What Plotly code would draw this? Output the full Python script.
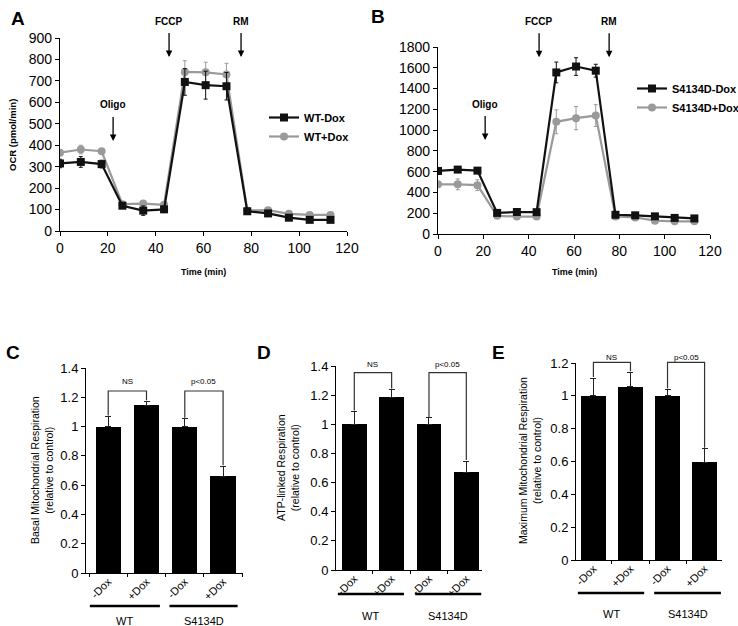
"""Mitochondrial respiration figure: OCR time courses (A, B) and summary bars (C-E)."""

import plotly.graph_objects as go

W, H = 738, 626

# ---- data: OCR time courses ----
time_min = [0, 8.7, 17.4, 26.1, 34.8, 43.5, 52.2, 60.9, 69.6, 78.3, 87.0, 95.7, 104.4, 113.1]

wt_minus = [315, 322, 312, 118, 95, 101, 695, 680, 675, 92, 82, 62, 52, 52]
wt_minus_err = [20, 25, 18, 10, 22, 15, 62, 65, 64, 8, 8, 10, 10, 8]
wt_plus = [365, 380, 372, 125, 128, 122, 742, 740, 730, 96, 97, 80, 75, 75]
wt_plus_err = [12, 20, 8, 8, 8, 8, 52, 47, 52, 6, 6, 6, 6, 6]

s_minus = [607, 620, 610, 203, 212, 210, 1555, 1612, 1572, 185, 180, 170, 155, 150]
s_minus_err = [30, 20, 20, 15, 15, 15, 100, 85, 62, 15, 15, 12, 12, 12]
s_plus = [478, 478, 470, 175, 168, 168, 1080, 1115, 1140, 168, 160, 128, 122, 122]
s_plus_err = [25, 52, 52, 15, 15, 15, 115, 112, 105, 15, 15, 12, 12, 12]

# ---- data: relative respiration bars ----
bar_labels = ["-Dox", "+Dox", "-Dox", "+Dox"]
groups = ["WT", "S4134D"]
basal = [1.0, 1.145, 1.0, 0.66]
basal_err = [0.07, 0.027, 0.054, 0.068]
atp = [1.0, 1.185, 1.0, 0.67]
atp_err = [0.09, 0.053, 0.046, 0.077]
maximal = [1.0, 1.055, 1.0, 0.595]
maximal_err = [0.108, 0.088, 0.041, 0.082]

BLACK = "#111111"
GRAY = "#9a9a9a"
FONT = "Liberation Sans"


def px(x):
    return x / W


def py(y):
    return 1 - y / H


# bar panel geometry: x pixel span, x range, y pixel span (bottom, top), y range
BAR_PANELS = {
    "3": dict(xpx=(86, 243), xr=(-0.58, 3.52), ypx=(573, 368), yr=(0, 1.4)),
    "4": dict(xpx=(336, 482), xr=(-0.49, 3.42), ypx=(570, 366), yr=(0, 1.4)),
    "5": dict(xpx=(576, 722), xr=(-0.47, 3.47), ypx=(560, 363), yr=(0, 1.2)),
}


def data_to_paper(panel, x, y=None):
    g = BAR_PANELS[panel]
    (a, b), (r0, r1) = g["xpx"], g["xr"]
    xp = px(a + (x - r0) / (r1 - r0) * (b - a))
    if y is None:
        return xp
    (c, d), (s0, s1) = g["ypx"], g["yr"]
    return xp, py(c + (y - s0) / (s1 - s0) * (d - c))


fig = go.Figure()


def add_line(x, y, err, name, color, symbol, xa, ya, legend):
    fig.add_trace(go.Scatter(
        x=x, y=y, name=name, mode="lines+markers",
        line=dict(color=color, width=2.2),
        marker=dict(color=color, symbol=symbol, size=8),
        error_y=dict(type="data", array=err, color=color, thickness=1, width=2),
        xaxis=xa, yaxis=ya, legend=legend,
    ))


add_line(time_min, wt_plus, wt_plus_err, "WT+Dox", GRAY, "circle", "x", "y", "legend")
add_line(time_min, wt_minus, wt_minus_err, "WT-Dox", BLACK, "square", "x", "y", "legend")
add_line(time_min, s_plus, s_plus_err, "S4134D+Dox", GRAY, "circle", "x2", "y2", "legend2")
add_line(time_min, s_minus, s_minus_err, "S4134D-Dox", BLACK, "square", "x2", "y2", "legend2")

for vals, errs, n in [(basal, basal_err, "3"), (atp, atp_err, "4"), (maximal, maximal_err, "5")]:
    fig.add_trace(go.Bar(
        x=list(range(len(vals))), y=vals, width=0.66,
        marker=dict(color="black", line=dict(width=0)),
        error_y=dict(type="data", array=errs, arrayminus=[0] * len(errs),
                     symmetric=False, color="#222222", thickness=1, width=3),
        showlegend=False, xaxis="x" + n, yaxis="y" + n,
    ))

line_axis = dict(showgrid=False, zeroline=False, showline=True, linecolor="black",
                 linewidth=1.2, ticks="outside", ticklen=4, tickcolor="black",
                 automargin=False,
                 tickfont=dict(family=FONT, size=14, color="black"))


def bar_axes(n):
    g = BAR_PANELS[n]
    xa = dict(domain=[px(g["xpx"][0]), px(g["xpx"][1])], range=list(g["xr"]), anchor="y" + n,
              showgrid=False, zeroline=False, showline=True, linecolor="black",
              linewidth=1, tickvals=[0, 1, 2, 3], ticktext=bar_labels,
              tickangle=-45, ticks="", automargin=False, ticklabelstandoff=-3,
              tickfont=dict(family=FONT, size=11, color="black"),
              minor=dict(tickvals=[-0.5, 0.5, 1.5, 2.5, 3.5], ticks="outside",
                         ticklen=3, tickcolor="black"))
    ya = dict(domain=[py(g["ypx"][0]), py(g["ypx"][1])], range=list(g["yr"]), anchor="x" + n,
              dtick=0.2, showgrid=False, zeroline=False, showline=True, linecolor="black",
              linewidth=1, ticks="outside", ticklen=4, tickcolor="black", automargin=False,
              tickfont=dict(family=FONT, size=13, color="black"))
    return {"xaxis" + n: xa, "yaxis" + n: ya}


legend_style = dict(xanchor="left", yanchor="top", bgcolor="rgba(0,0,0,0)",
                    itemwidth=30, tracegroupgap=0, traceorder="reversed",
                    font=dict(family=FONT, size=11, color="black", weight="bold"))

fig.update_layout(
    template="none",
    width=W, height=H, margin=dict(l=0, r=0, t=0, b=0, autoexpand=False),
    paper_bgcolor="white", plot_bgcolor="white",
    xaxis=dict(line_axis, domain=[px(60), px(347)], range=[0, 120], dtick=20, anchor="y"),
    yaxis=dict(line_axis, domain=[py(231), py(38)], range=[0, 900], dtick=100, anchor="x"),
    xaxis2=dict(line_axis, domain=[px(438), px(710)], range=[0, 120], dtick=20, anchor="y2"),
    yaxis2=dict(line_axis, domain=[py(234), py(47)], range=[0, 1800], dtick=200, anchor="x2"),
    legend=dict(legend_style, x=px(264), y=py(103)),
    legend2=dict(legend_style, x=px(632), y=py(74)),
    bargap=0,
)
for n in BAR_PANELS:
    fig.update_layout(**bar_axes(n))

annotations = []


def text(x, y, s, size=10, bold=False, angle=0, xref="paper", yref="paper"):
    annotations.append(dict(
        x=x, y=y, xref=xref, yref=yref, text=s, showarrow=False, textangle=angle,
        xanchor="center", yanchor="middle",
        font=dict(family=FONT, size=size, color="black", weight="bold" if bold else "normal")))


def arrow(x, y, s, xa, ya):
    annotations.append(dict(
        x=x, y=y, xref=xa, yref=ya, text=s, showarrow=True, ax=0, ay=-36,
        arrowhead=2, arrowsize=1, arrowwidth=1.3, arrowcolor="black", startstandoff=5,
        font=dict(family=FONT, size=10, color="black", weight="bold")))


# panel letters
for letter, x, y in [("A", 18, 18), ("B", 378, 16), ("C", 13, 352), ("D", 264, 352), ("E", 498, 352)]:
    text(px(x), py(y), letter, size=19, bold=True)

# injection arrows
arrow(22.2, 420, "Oligo", "x", "y")
arrow(45.6, 811, "FCCP", "x", "y")
arrow(75.7, 811, "RM", "x", "y")
arrow(20.8, 904, "Oligo", "x2", "y2")
arrow(44.6, 1701, "FCCP", "x2", "y2")
arrow(75.5, 1701, "RM", "x2", "y2")

# axis titles for the time courses
text(px(13), py(135), "OCR (pmol/min)", size=9.5, bold=True, angle=-90)
text(px(203), py(272), "Time (min)", size=9, bold=True)
text(px(574), py(272), "Time (min)", size=9, bold=True)

# axis titles for the bar panels
text(px(42), py(470), "Basal Mitochondrial Respiration<br>(relative to control)", size=10.5, angle=-90)
text(px(288), py(468), "ATP-linked Respiration<br>(relative to control)", size=10.5, angle=-90)
text(px(530), py(461), "Maximum Mitochondrial Respiration<br>(relative to control)", size=10.5, angle=-90)

shapes = []
# significance brackets: (panel, bracket height, legs, label height)
brackets = [
    ("3", 1.243, [(0, 1.075, 1, 1.18, "NS"), (2, 1.06, 3, 0.735, "p<0.05")], 1.31),
    ("4", 1.354, [(0, 1.095, 1, 1.245, "NS"), (2, 1.05, 3, 0.755, "p<0.05")], 1.41),
    ("5", 1.204, [(0, 1.115, 1, 1.15, "NS"), (2, 1.045, 3, 0.683, "p<0.05")], 1.236),
]
for n, top, legs, lab_y in brackets:
    for x0, y0, x1, y1, lab in legs:
        pts = [data_to_paper(n, x0, y0), data_to_paper(n, x0, top),
               data_to_paper(n, x1, top), data_to_paper(n, x1, y1)]
        path = "M " + " L ".join(f"{a:.5f},{b:.5f}" for a, b in pts)
        shapes.append(dict(type="path", xref="paper", yref="paper", path=path,
                           line=dict(color="#333333", width=1.2)))
        lx, ly = data_to_paper(n, (x0 + x1) / 2, lab_y)
        text(lx, ly, lab, size=8)

# group underlines and labels
group_lines = [("3", 606, 621, [(-0.48, 1.35), (1.6, 3.38)]),
               ("4", 594, 616, [(-0.44, 1.33), (1.63, 3.4)]),
               ("5", 593, 614, [(-0.42, 1.37), (1.64, 3.44)])]
for n, ly, ty, spans in group_lines:
    for (a, b), g in zip(spans, groups):
        x0, x1 = data_to_paper(n, a), data_to_paper(n, b)
        shapes.append(dict(type="line", xref="paper", yref="paper", x0=x0, x1=x1,
                           y0=py(ly), y1=py(ly), line=dict(color="black", width=2.5)))
        text((x0 + x1) / 2, py(ty), g, size=11)

fig.update_layout(annotations=annotations, shapes=shapes)

fig.write_html("out.html", config={"displayModeBar": False},
               post_script="document.body.style.margin='0';")
